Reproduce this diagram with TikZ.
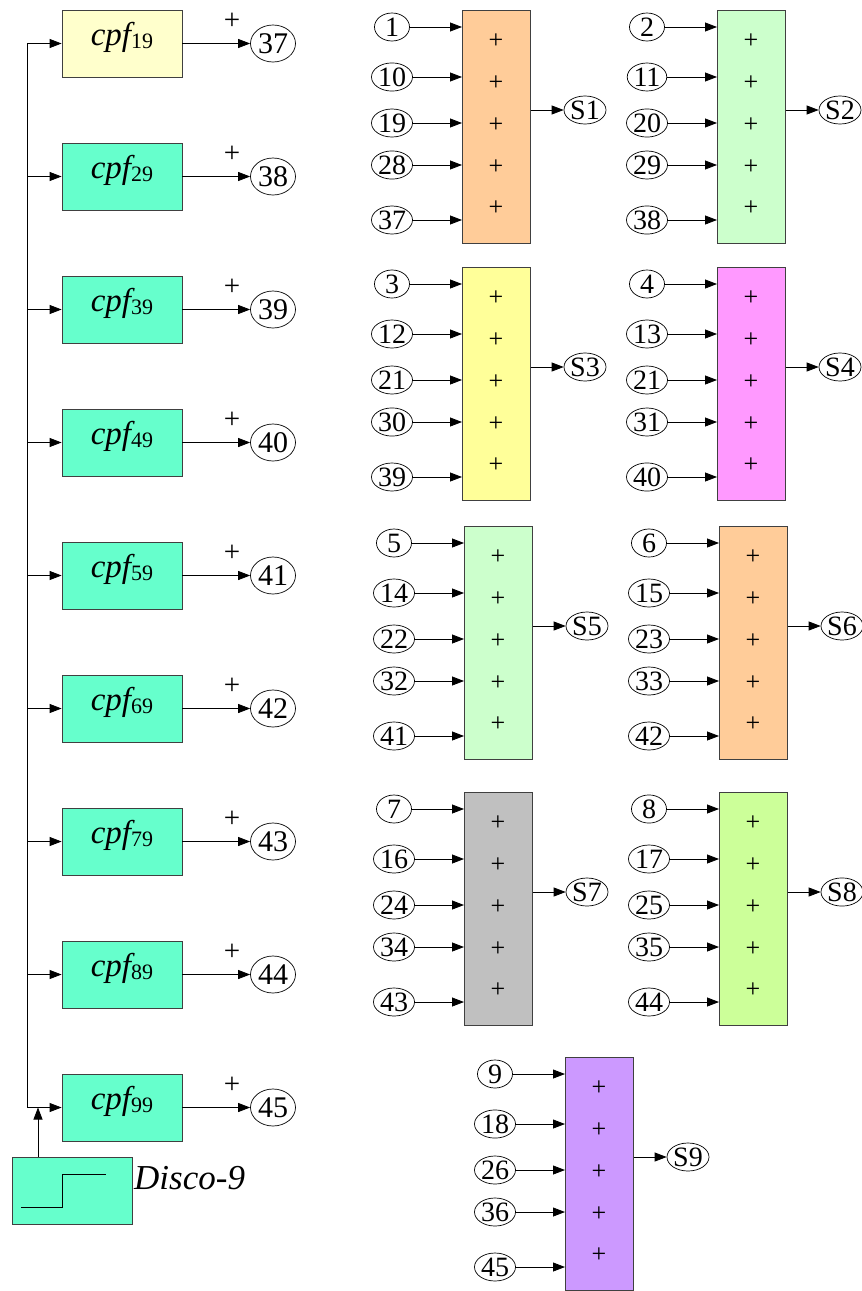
\documentclass[tikz,border=0pt]{standalone}
\usepackage{fontspec}
\setmainfont{Liberation Serif}
\usetikzlibrary{arrows.meta,shapes.geometric}
\definecolor{cpfgreen}{HTML}{66FFCC}
\definecolor{cpfyellow}{HTML}{FFFFCC}
\definecolor{aorange}{HTML}{FFCC99}
\definecolor{agreen}{HTML}{CCFFCC}
\definecolor{ayellow}{HTML}{FFFF99}
\definecolor{amagenta}{HTML}{FF99FF}
\definecolor{agray}{HTML}{C0C0C0}
\definecolor{alime}{HTML}{CCFF99}
\definecolor{apurple}{HTML}{CC99FF}
\tikzset{
  conn/.style={draw=black, line width=0.8pt, -{Triangle[length=12pt,width=9pt]}},
  plainline/.style={draw=black, line width=0.8pt},
  blk/.style={draw=black!75, line width=0.8pt, rectangle, inner sep=0pt},
  cpfbox/.style={blk, minimum width=120pt, minimum height=67pt},
  incirc/.style={ellipse, draw=black, line width=0.7pt, inner sep=0.5pt, minimum width=35pt, minimum height=28pt, font=\fontsize{28}{30}\selectfont},
  scirc/.style={incirc, inner xsep=-3pt, minimum width=42pt},
  outcirc/.style={ellipse, draw=black, line width=0.7pt, inner sep=0pt, minimum width=45pt, minimum height=37pt, font=\fontsize{30}{32}\selectfont},
  pl/.style={inner sep=0pt, font=\fontsize{26}{28}\selectfont},
  plbig/.style={inner sep=0pt, font=\fontsize{29}{31}\selectfont},
}
\newcommand\adderblock[5]{%
  \node[blk, fill=#4, minimum width=68pt, minimum height=233pt, anchor=north west] (B#1) at (#2,#3) {};
  \foreach \lab [count=\k] in {#5} {
    \pgfmathsetmacro\dy{{17,67,113,155,210}[\k-1]}
    \pgfmathsetmacro\py{{31,73,115,157,198}[\k-1]}
    \node[incirc] (B#1c\k) at (#2-70,#3+\dy) {\lab};
    \draw[conn] (B#1c\k.east) -- (B#1c\k.east -| B#1.west);
    \node[pl] (B#1p\k) at (#2+34,#3+\py) {+};
  }
  \node[scirc] (S#1) at (#2+68+55,#3+100) {S#1};
  \draw[conn] (S#1.west -| B#1.east) -- (S#1.west);
}
\begin{document}
\begin{tikzpicture}[x=1pt,y=-1pt]
\useasboundingbox (0,0) rectangle (862,1291);
% left column
\coordinate (vtop) at (27,43.5);
\coordinate (vbot) at (27,1107.5);
\draw[plainline] (vtop) -- (vbot);
\foreach \sub/\n/\col [count=\k] in {19/37/cpfyellow,29/38/cpfgreen,39/39/cpfgreen,49/40/cpfgreen,59/41/cpfgreen,69/42/cpfgreen,79/43/cpfgreen,89/44/cpfgreen,99/45/cpfgreen} {
  \pgfmathsetmacro\yc{43.5+133*(\k-1)}
  \node[cpfbox, fill=\col] (cpf\k) at (122,\yc) {};
  \node[inner sep=0pt, anchor=base] (cpft\k) at (122,\yc+2) {{\fontsize{33}{35}\selectfont\itshape cpf}{\fontsize{22}{24}\selectfont\raisebox{-3pt}{\sub}}};
  \draw[conn] (cpf\k.west -| vtop) -- (cpf\k.west);
  \node[outcirc] (o\k) at (273,\yc) {\n};
  \draw[conn] (cpf\k.east) -- (o\k.west);
  \node[plbig] (op\k) at (232,\yc-22) {+};
}
% Disco-9
\node[cpfbox, fill=cpfgreen, anchor=north west] (disco) at (12,1157) {};
\coordinate (dj) at (38,1107.5);
\draw[conn] (disco.north -| dj) -- (dj);
\draw[plainline] (21,1207) -- (62,1207) -- (62,1174) -- (106,1174);
\node[inner sep=0pt, anchor=base west, font=\fontsize{35}{37}\selectfont\itshape] (discolab) at (134,1189) {Disco-9};
% adders
\adderblock{1}{462}{10}{aorange}{1,10,19,28,37}
\adderblock{2}{717}{10}{agreen}{2,11,20,29,38}
\adderblock{3}{462}{267}{ayellow}{3,12,21,30,39}
\adderblock{4}{717}{267}{amagenta}{4,13,21,31,40}
\adderblock{5}{464}{526}{agreen}{5,14,22,32,41}
\adderblock{6}{719}{526}{aorange}{6,15,23,33,42}
\adderblock{7}{464}{792}{agray}{7,16,24,34,43}
\adderblock{8}{719}{792}{alime}{8,17,25,35,44}
\adderblock{9}{565}{1057}{apurple}{9,18,26,36,45}
\end{tikzpicture}
\end{document}
